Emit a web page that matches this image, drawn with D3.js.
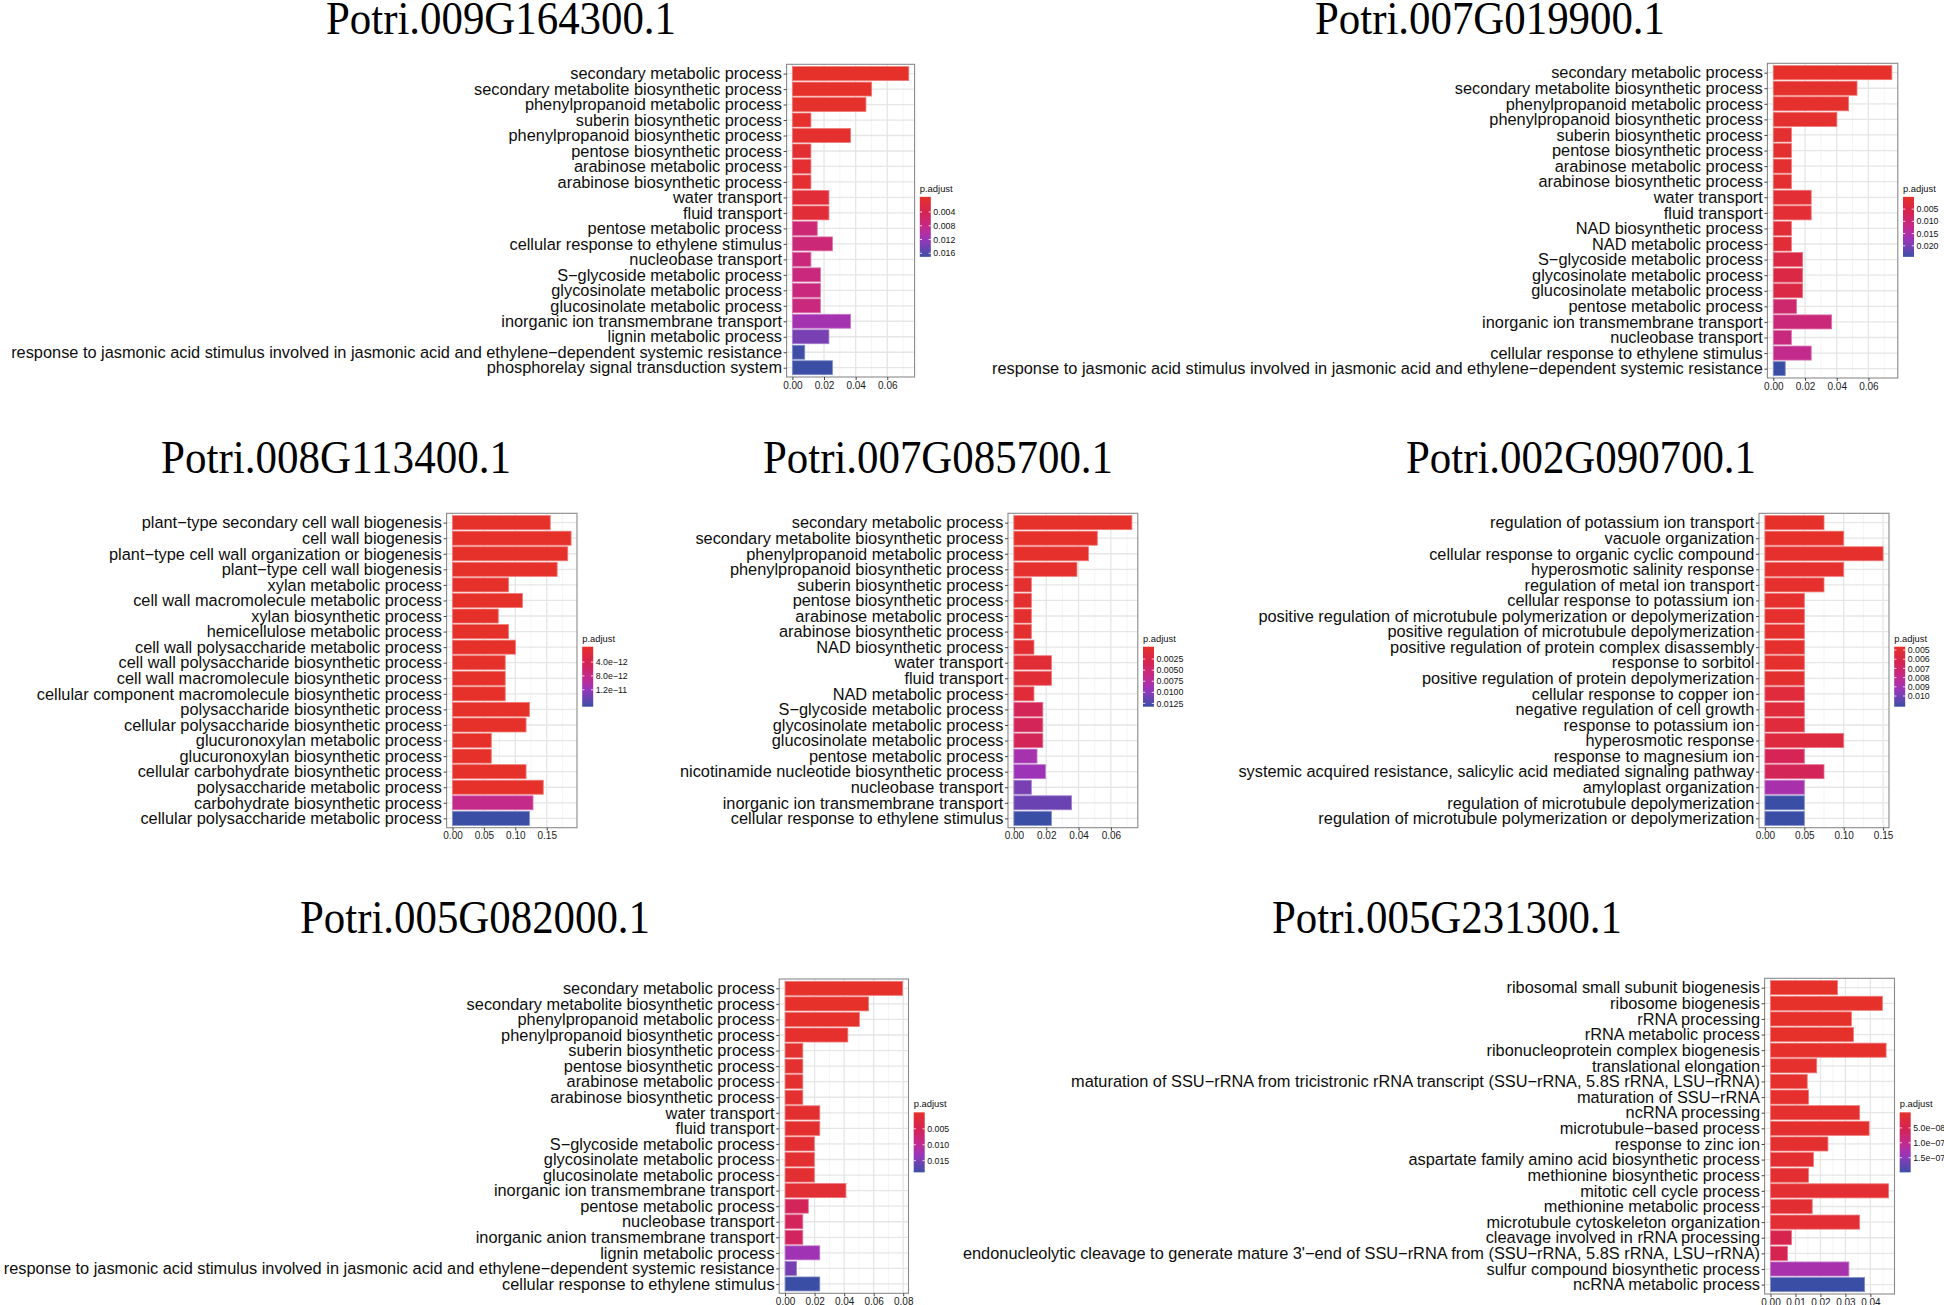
<!DOCTYPE html>
<html><head><meta charset="utf-8">
<script src="https://cdn.jsdelivr.net/npm/d3@7"></script>
<style>body{margin:0;background:#fff}svg{display:block}</style>
</head><body>
<svg id="c" width="1944" height="1305"></svg>
<script>
// ---------------- DATA ----------------
const titles = ["Potri.009G164300.1","Potri.007G019900.1","Potri.008G113400.1","Potri.007G085700.1","Potri.002G090700.1","Potri.005G082000.1","Potri.005G231300.1"];

const terms1 = ["secondary metabolic process","secondary metabolite biosynthetic process","phenylpropanoid metabolic process","suberin biosynthetic process","phenylpropanoid biosynthetic process","pentose biosynthetic process","arabinose metabolic process","arabinose biosynthetic process","water transport","fluid transport","pentose metabolic process","cellular response to ethylene stimulus","nucleobase transport","S\u2212glycoside metabolic process","glycosinolate metabolic process","glucosinolate metabolic process","inorganic ion transmembrane transport","lignin metabolic process","response to jasmonic acid stimulus involved in jasmonic acid and ethylene\u2212dependent systemic resistance","phosphorelay signal transduction system"];
const ratio1 = [0.0736,0.0501,0.0465,0.0117,0.0368,0.0117,0.0117,0.0117,0.0231,0.0231,0.0157,0.0253,0.0117,0.0177,0.0177,0.0177,0.0368,0.0231,0.0078,0.0253];
const padj1 = [0.00005,0.0001,0.0002,0.0004,0.0005,0.0008,0.0008,0.0008,0.0015,0.0015,0.0068,0.0070,0.0072,0.0074,0.0074,0.0074,0.0110,0.0135,0.0164,0.0166];

const terms2 = ["secondary metabolic process","secondary metabolite biosynthetic process","phenylpropanoid metabolic process","phenylpropanoid biosynthetic process","suberin biosynthetic process","pentose biosynthetic process","arabinose metabolic process","arabinose biosynthetic process","water transport","fluid transport","NAD biosynthetic process","NAD metabolic process","S\u2212glycoside metabolic process","glycosinolate metabolic process","glucosinolate metabolic process","pentose metabolic process","inorganic ion transmembrane transport","nucleobase transport","cellular response to ethylene stimulus","response to jasmonic acid stimulus involved in jasmonic acid and ethylene\u2212dependent systemic resistance"];
const ratio2 = [0.0748,0.0528,0.0475,0.0401,0.0114,0.0114,0.0114,0.0114,0.0239,0.0239,0.0114,0.0114,0.0185,0.0185,0.0185,0.0146,0.0368,0.0114,0.0239,0.0075];
const padj2 = [0.0006,0.0008,0.0010,0.0012,0.0015,0.0015,0.0015,0.0015,0.0020,0.0020,0.0025,0.0025,0.0045,0.0045,0.0045,0.0095,0.0105,0.0110,0.0125,0.0239];

const terms3 = ["plant\u2212type secondary cell wall biogenesis","cell wall biogenesis","plant\u2212type cell wall organization or biogenesis","plant\u2212type cell wall biogenesis","xylan metabolic process","cell wall macromolecule metabolic process","xylan biosynthetic process","hemicellulose metabolic process","cell wall polysaccharide metabolic process","cell wall polysaccharide biosynthetic process","cell wall macromolecule biosynthetic process","cellular component macromolecule biosynthetic process","polysaccharide biosynthetic process","cellular polysaccharide biosynthetic process","glucuronoxylan metabolic process","glucuronoxylan biosynthetic process","cellular carbohydrate biosynthetic process","polysaccharide metabolic process","carbohydrate biosynthetic process","cellular polysaccharide metabolic process"];
const ratio3 = [0.1556,0.1888,0.1835,0.1666,0.0891,0.1113,0.0728,0.0891,0.1002,0.0839,0.0839,0.0839,0.1224,0.1171,0.0617,0.0617,0.1171,0.1445,0.1282,0.1224];
const padj3 = [1e-16,2e-16,3e-16,5e-16,1e-15,2e-15,3e-15,5e-15,8e-15,1e-14,1e-14,1e-14,2e-14,3e-14,5e-14,5e-14,8e-14,1e-13,8.2e-12,1.645e-11];

const terms4 = ["secondary metabolic process","secondary metabolite biosynthetic process","phenylpropanoid metabolic process","phenylpropanoid biosynthetic process","suberin biosynthetic process","pentose biosynthetic process","arabinose metabolic process","arabinose biosynthetic process","NAD biosynthetic process","water transport","fluid transport","NAD metabolic process","S\u2212glycoside metabolic process","glycosinolate metabolic process","glucosinolate metabolic process","pentose metabolic process","nicotinamide nucleotide biosynthetic process","nucleobase transport","inorganic ion transmembrane transport","cellular response to ethylene stimulus"];
const ratio4 = [0.0730,0.0516,0.0461,0.0390,0.0108,0.0108,0.0108,0.0108,0.0124,0.0232,0.0232,0.0124,0.0179,0.0179,0.0179,0.0143,0.0196,0.0108,0.0357,0.0232];
const padj4 = [0.00006,0.0001,0.0002,0.0003,0.0005,0.0005,0.0005,0.0005,0.0008,0.0010,0.0010,0.0012,0.0038,0.0038,0.0038,0.0085,0.0090,0.0105,0.0110,0.0129];

const terms5 = ["regulation of potassium ion transport","vacuole organization","cellular response to organic cyclic compound","hyperosmotic salinity response","regulation of metal ion transport","cellular response to potassium ion","positive regulation of microtubule polymerization or depolymerization","positive regulation of microtubule depolymerization","positive regulation of protein complex disassembly","response to sorbitol","positive regulation of protein depolymerization","cellular response to copper ion","negative regulation of cell growth","response to potassium ion","hyperosmotic response","response to magnesium ion","systemic acquired resistance, salicylic acid mediated signaling pathway","amyloplast organization","regulation of microtubule depolymerization","regulation of microtubule polymerization or depolymerization"];
const ratio5 = [0.075,0.100,0.150,0.100,0.075,0.050,0.050,0.050,0.050,0.050,0.050,0.050,0.050,0.050,0.100,0.050,0.075,0.050,0.050,0.050];
const padj5 = [0.0048,0.0048,0.0049,0.0049,0.0049,0.0049,0.0049,0.0049,0.0049,0.0049,0.0050,0.0055,0.0055,0.0055,0.0056,0.0065,0.0066,0.0088,0.0110,0.0110];

const terms6 = ["secondary metabolic process","secondary metabolite biosynthetic process","phenylpropanoid metabolic process","phenylpropanoid biosynthetic process","suberin biosynthetic process","pentose biosynthetic process","arabinose metabolic process","arabinose biosynthetic process","water transport","fluid transport","S\u2212glycoside metabolic process","glycosinolate metabolic process","glucosinolate metabolic process","inorganic ion transmembrane transport","pentose metabolic process","nucleobase transport","inorganic anion transmembrane transport","lignin metabolic process","response to jasmonic acid stimulus involved in jasmonic acid and ethylene\u2212dependent systemic resistance","cellular response to ethylene stimulus"];
const ratio6 = [0.0796,0.0565,0.0503,0.0425,0.0120,0.0120,0.0120,0.0120,0.0235,0.0235,0.0198,0.0198,0.0198,0.0412,0.0157,0.0120,0.0120,0.0235,0.0078,0.0235];
const padj6 = [0.0003,0.0004,0.0005,0.0006,0.0008,0.0008,0.0008,0.0008,0.0010,0.0010,0.0012,0.0012,0.0012,0.0015,0.0055,0.0058,0.0060,0.0125,0.0150,0.0182];

const terms7 = ["ribosomal small subunit biogenesis","ribosome biogenesis","rRNA processing","rRNA metabolic process","ribonucleoprotein complex biogenesis","translational elongation","maturation of SSU\u2212rRNA from tricistronic rRNA transcript (SSU\u2212rRNA, 5.8S rRNA, LSU\u2212rRNA)","maturation of SSU\u2212rRNA","ncRNA processing","microtubule\u2212based process","response to zinc ion","aspartate family amino acid biosynthetic process","methionine biosynthetic process","mitotic cell cycle process","methionine metabolic process","microtubule cytoskeleton organization","cleavage involved in rRNA processing","endonucleolytic cleavage to generate mature 3'\u2212end of SSU\u2212rRNA from (SSU\u2212rRNA, 5.8S rRNA, LSU\u2212rRNA)","sulfur compound biosynthetic process","ncRNA metabolic process"];
const ratio7 = [0.0268,0.0448,0.0324,0.0332,0.0463,0.0185,0.0147,0.0152,0.0357,0.0395,0.0230,0.0172,0.0152,0.0473,0.0167,0.0357,0.0084,0.0068,0.0314,0.0377];
const padj7 = [3e-9,3e-9,4e-9,4e-9,5e-9,6e-9,7e-9,7e-9,8e-9,9e-9,1e-8,1.1e-8,1.2e-8,1.3e-8,1.4e-8,1.5e-8,5.0e-8,5.2e-8,1.27e-7,1.94e-7];

const xTicks1 = [0,0.02,0.04,0.06], xLabels1 = ["0.00","0.02","0.04","0.06"];
const xTicks3 = [0,0.05,0.10,0.15], xLabels3 = ["0.00","0.05","0.10","0.15"];
const xTicks6 = [0,0.02,0.04,0.06,0.08], xLabels6 = ["0.00","0.02","0.04","0.06","0.08"];
const xTicks7 = [0,0.01,0.02,0.03,0.04], xLabels7 = ["0.00","0.01","0.02","0.03","0.04"];

const legBreaks1 = [0.004,0.008,0.012,0.016], legLabels1 = ["0.004","0.008","0.012","0.016"];
const legBreaks2 = [0.005,0.010,0.015,0.020], legLabels2 = ["0.005","0.010","0.015","0.020"];
const legBreaks3 = [4e-12,8e-12,1.2e-11], legLabels3 = ["4.0e\u221212","8.0e\u221212","1.2e\u221211"];
const legBreaks4 = [0.0025,0.005,0.0075,0.01,0.0125], legLabels4 = ["0.0025","0.0050","0.0075","0.0100","0.0125"];
const legBreaks5 = [0.005,0.006,0.007,0.008,0.009,0.010], legLabels5 = ["0.005","0.006","0.007","0.008","0.009","0.010"];
const legBreaks6 = [0.005,0.010,0.015], legLabels6 = ["0.005","0.010","0.015"];
const legBreaks7 = [5e-8,1e-7,1.5e-7], legLabels7 = ["5.0e\u221208","1.0e\u221207","1.5e\u221207"];

const panels = [
  {title:titles[0], terms:terms1, ratio:ratio1, padj:padj1, ticks:xTicks1, tickLabels:xLabels1, breaks:legBreaks1, breakLabels:legLabels1},
  {title:titles[1], terms:terms2, ratio:ratio2, padj:padj2, ticks:xTicks1, tickLabels:xLabels1, breaks:legBreaks2, breakLabels:legLabels2},
  {title:titles[2], terms:terms3, ratio:ratio3, padj:padj3, ticks:xTicks3, tickLabels:xLabels3, breaks:legBreaks3, breakLabels:legLabels3},
  {title:titles[3], terms:terms4, ratio:ratio4, padj:padj4, ticks:xTicks1, tickLabels:xLabels1, breaks:legBreaks4, breakLabels:legLabels4},
  {title:titles[4], terms:terms5, ratio:ratio5, padj:padj5, ticks:xTicks3, tickLabels:xLabels3, breaks:legBreaks5, breakLabels:legLabels5},
  {title:titles[5], terms:terms6, ratio:ratio6, padj:padj6, ticks:xTicks6, tickLabels:xLabels6, breaks:legBreaks6, breakLabels:legLabels6},
  {title:titles[6], terms:terms7, ratio:ratio7, padj:padj7, ticks:xTicks7, tickLabels:xLabels7, breaks:legBreaks7, breakLabels:legLabels7}
];

// ---------------- LAYOUT / STYLE ----------------
const layout = [
  {left:786.6, right:914.6, top:64.3, bottom:377, tx:501, ty:34},
  {left:1767.4, right:1897.8, top:63.3, bottom:378, tx:1490, ty:34},
  {left:446.6, right:577, top:513.3, bottom:827.7, tx:336, ty:473},
  {left:1008, right:1137.8, top:513.3, bottom:827.7, tx:938, ty:473},
  {left:1759, right:1889, top:513.3, bottom:827.7, tx:1581, ty:473},
  {left:779.2, right:908.5, top:979, bottom:1293.3, tx:475, ty:933},
  {left:1764.6, right:1894.5, top:978.3, bottom:1294, tx:1447, ty:933}
];
const SANS = "'Liberation Sans', Arial, Helvetica, sans-serif";
const SERIF = "'Liberation Serif', 'Times New Roman', serif";
const colorStops = d3.scaleLinear()
  .domain([0,0.25,0.5,0.7,0.85,1])
  .range(["#E6312A","#D6244F","#C42A8A","#9C34B8","#6C42B2","#3A4EA6"])
  .interpolate(d3.interpolateLab);

const svg = d3.select("#c");
const defs = svg.append("defs");

panels.forEach((P, i) => {
  const L = layout[i];
  const g = svg.append("g");

  // title
  g.append("text")
    .attr("x", L.tx).attr("y", L.ty)
    .attr("text-anchor", "middle")
    .attr("font-family", SERIF).attr("font-size", 47)
    .attr("textLength", 350).attr("lengthAdjust", "spacingAndGlyphs")
    .attr("fill", "#000")
    .text(P.title);

  const maxV = d3.max(P.ratio);
  const x = d3.scaleLinear().domain([-0.05 * maxV, 1.05 * maxV]).range([L.left, L.right]);
  const y = d3.scalePoint().domain(P.terms).range([L.top, L.bottom]).padding(0.6);
  const step = y.step();
  const ext = d3.extent(P.padj);
  const col = v => colorStops((v - ext[0]) / (ext[1] - ext[0]));

  // panel background
  g.append("rect").attr("x", L.left).attr("y", L.top)
    .attr("width", L.right - L.left).attr("height", L.bottom - L.top).attr("fill", "#fff");

  // minor vertical grid
  const dt = P.ticks[1] - P.ticks[0];
  const minor = P.ticks.map(t => t + dt / 2).filter(v => v < x.domain()[1]);
  g.selectAll(null).data(minor).join("line")
    .attr("x1", d => x(d)).attr("x2", d => x(d))
    .attr("y1", L.top).attr("y2", L.bottom)
    .attr("stroke", "#F2F2F2").attr("stroke-width", 0.8);
  // major vertical grid
  g.selectAll(null).data(P.ticks).join("line")
    .attr("x1", d => x(d)).attr("x2", d => x(d))
    .attr("y1", L.top).attr("y2", L.bottom)
    .attr("stroke", "#E6E6E6").attr("stroke-width", 1.3);
  // major horizontal grid
  g.selectAll(null).data(P.terms).join("line")
    .attr("x1", L.left).attr("x2", L.right)
    .attr("y1", d => y(d)).attr("y2", d => y(d))
    .attr("stroke", "#E6E6E6").attr("stroke-width", 1.3);

  // bars
  g.selectAll(null).data(P.terms).join("rect")
    .attr("x", x(0))
    .attr("y", d => y(d) - step * 0.45)
    .attr("width", (d, j) => x(P.ratio[j]) - x(0))
    .attr("height", step * 0.9)
    .attr("fill", (d, j) => col(P.padj[j]))
    .attr("stroke", (d, j) => d3.interpolateRgb(col(P.padj[j]), "#ffffff")(0.35))
    .attr("stroke-width", 0.8);

  // border
  g.append("rect").attr("x", L.left).attr("y", L.top)
    .attr("width", L.right - L.left).attr("height", L.bottom - L.top)
    .attr("fill", "none").attr("stroke", "#8A8A8A").attr("stroke-width", 1.1);

  // x axis
  const xa = g.append("g").attr("transform", `translate(0,${L.bottom})`)
    .call(d3.axisBottom(x).tickValues(P.ticks).tickFormat((d, j) => P.tickLabels[j]).tickSize(3).tickPadding(1.5));
  xa.select(".domain").remove();
  xa.selectAll("line").attr("stroke", "#444");
  xa.selectAll("text").attr("font-family", SANS).attr("font-size", 10).attr("fill", "#1a1a1a");

  // y axis
  const ya = g.append("g").attr("transform", `translate(${L.left},0)`)
    .call(d3.axisLeft(y).tickSize(3).tickPadding(1.6));
  ya.select(".domain").remove();
  ya.selectAll("line").attr("stroke", "#444");
  ya.selectAll("text").attr("font-family", SANS).attr("font-size", 16.35).attr("fill", "#0d0d0d");

  // legend (colorbar)
  const lx = L.right + 5.2, lw = 11, lh = 60;
  const mid = (L.top + L.bottom) / 2;
  const ly = mid - 23.8;
  const gid = "grad" + i;
  const grad = defs.append("linearGradient").attr("id", gid)
    .attr("x1", 0).attr("y1", 0).attr("x2", 0).attr("y2", 1);
  d3.range(0, 1.0001, 0.05).forEach(t => {
    grad.append("stop").attr("offset", t).attr("stop-color", colorStops(t));
  });
  g.append("text").attr("x", lx).attr("y", ly - 5)
    .attr("font-family", SANS).attr("font-size", 9.4).attr("fill", "#111").text("p.adjust");
  g.append("rect").attr("x", lx).attr("y", ly).attr("width", lw).attr("height", lh)
    .attr("fill", `url(#${gid})`);
  const ls = d3.scaleLinear().domain(ext).range([ly + 1.5, ly + lh - 1.5]);
  P.breaks.forEach((b, j) => {
    const yy = ls(b);
    g.append("line").attr("x1", lx).attr("x2", lx + 2.2).attr("y1", yy).attr("y2", yy)
      .attr("stroke", "#fff").attr("stroke-width", 0.8);
    g.append("line").attr("x1", lx + lw - 2.2).attr("x2", lx + lw).attr("y1", yy).attr("y2", yy)
      .attr("stroke", "#fff").attr("stroke-width", 0.8);
    g.append("text").attr("x", lx + lw + 2.5).attr("y", yy).attr("dy", "0.35em")
      .attr("font-family", SANS).attr("font-size", 8.8).attr("fill", "#111").text(P.breakLabels[j]);
  });
});
</script>
</body></html>
